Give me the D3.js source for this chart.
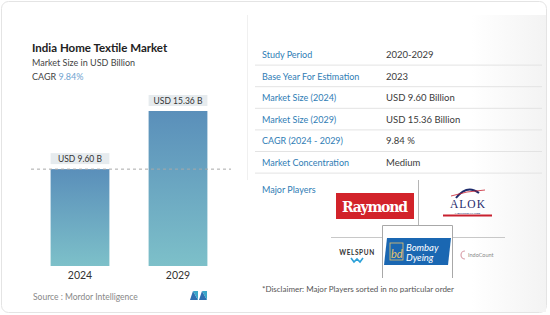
<!DOCTYPE html>
<html>
<head>
<meta charset="utf-8">
<script src="https://cdn.jsdelivr.net/npm/d3@7"></script>
<style>
  body { margin: 0; background: #fff; }
  svg { display: block; font-family: Lato, "Open Sans", sans-serif; }
</style>
</head>
<body>
<div id="chart"></div>
<script>
// chart data
var years = ["2024", "2029"];
var marketSize = [9.60, 15.36];
var sizeLabels = ["USD 9.60 B", "USD 15.36 B"];
var cagrText = "9.84%";

// table data
var rowLabels = ["Study Period", "Base Year For Estimation", "Market Size (2024)", "Market Size (2029)", "CAGR (2024 - 2029)", "Market Concentration"];
var rowValues = ["2020-2029", "2023", "USD 9.60 Billion", "USD 15.36 Billion", "9.84 %", "Medium"];

var svgWidth = 550;
var svgHeight = 315;
var svg = d3.select("#chart").append("svg")
    .attr("width", svgWidth)
    .attr("height", svgHeight);

var defs = svg.append("defs");
var grad = defs.append("linearGradient").attr("id", "barGrad")
    .attr("x1", 0).attr("y1", 0).attr("x2", 0).attr("y2", 1);
grad.append("stop").attr("offset", "0%").attr("stop-color", "#5a8fba");
grad.append("stop").attr("offset", "100%").attr("stop-color", "#7dc0c9");

var panelGrad = defs.append("linearGradient").attr("id", "panelGrad")
    .attr("x1", 0).attr("y1", 0).attr("x2", 1).attr("y2", 0);
panelGrad.append("stop").attr("offset", "0%").attr("stop-color", "#ffffff");
panelGrad.append("stop").attr("offset", "75%").attr("stop-color", "#ffffff");
panelGrad.append("stop").attr("offset", "100%").attr("stop-color", "#f3f3f3");

// outer card
svg.append("rect")
    .attr("x", 1.5).attr("y", 1.5).attr("width", 545).attr("height", 311)
    .attr("rx", 7).attr("fill", "#fff").attr("stroke", "#e4e4e4");

// right panel
svg.append("rect")
    .attr("x", 247).attr("y", 15).attr("width", 299).attr("height", 297)
    .attr("fill", "url(#panelGrad)");
svg.append("line")
    .attr("x1", 247.5).attr("x2", 247.5).attr("y1", 15).attr("y2", 180)
    .attr("stroke", "#f0f0f0");

// ---- left: title block ----
svg.append("text").attr("x", 32).attr("y", 52)
    .attr("font-size", "11.5px").attr("font-weight", "bold").attr("fill", "#222")
    .text("India Home Textile Market");
svg.append("text").attr("x", 32).attr("y", 66)
    .attr("font-size", "9px").attr("fill", "#444")
    .text("Market Size in USD Billion");
var cagr = svg.append("text").attr("x", 32).attr("y", 80)
    .attr("font-size", "9px").attr("fill", "#444");
cagr.append("tspan").text("CAGR ");
cagr.append("tspan").attr("fill", "#6fa3cf").text(cagrText);

// ---- left: bars ----
var xScale = d3.scaleBand().domain(years).range([31, 227])
    .paddingInner(0.4).paddingOuter(0.2);
var yScale = d3.scaleLinear().domain([0, 15.36]).range([266, 111]);

var chartData = years.map(function(y, i) {
    return {year: y, value: marketSize[i], label: sizeLabels[i]};
});

svg.append("g").selectAll("rect")
    .data(chartData)
    .enter()
    .append("rect")
    .attr("x", d => xScale(d.year))
    .attr("y", d => yScale(d.value))
    .attr("width", xScale.bandwidth())
    .attr("height", d => yScale(0) - yScale(d.value))
    .attr("fill", "url(#barGrad)");

// dashed reference at first value
svg.append("line")
    .attr("x1", 31).attr("x2", 231)
    .attr("y1", yScale(marketSize[0])).attr("y2", yScale(marketSize[0]))
    .attr("stroke", "#a8a8a8").attr("stroke-dasharray", "3,3");

var labels = svg.append("g").selectAll("g")
    .data(chartData)
    .enter()
    .append("g");
labels.append("rect")
    .attr("x", d => xScale(d.year))
    .attr("y", d => yScale(d.value) - 16)
    .attr("width", xScale.bandwidth())
    .attr("height", 11)
    .attr("fill", "#e6ebee");
labels.append("text")
    .attr("x", d => xScale(d.year) + xScale.bandwidth() / 2)
    .attr("y", d => yScale(d.value) - 7.5)
    .attr("text-anchor", "middle")
    .attr("font-size", "8.5px").attr("fill", "#333")
    .text(d => d.label);

var bottomAxis = d3.axisBottom(xScale).tickSize(0).tickPadding(6);
var axisG = svg.append("g").attr("transform", "translate(0,266)").call(bottomAxis);
axisG.select(".domain").remove();
axisG.selectAll("text").attr("font-size", "10.5px").attr("fill", "#333")
    .attr("font-family", "Lato, sans-serif");

// source
svg.append("text").attr("x", 33).attr("y", 300)
    .attr("font-size", "8.5px").attr("fill", "#888")
    .text("Source :  Mordor Intelligence");
var logo = svg.append("g").attr("transform", "translate(190,291)");
logo.append("path").attr("d", "M0,9 L3,0 L8,9 Z").attr("fill", "#2f6fb0");
logo.append("path").attr("d", "M3,0 L8,0 L8,9 Z").attr("fill", "#3aa7c9");
logo.append("path").attr("d", "M9,9 L12,0 L17,9 Z").attr("fill", "#2f6fb0");
logo.append("path").attr("d", "M12,0 L17,0 L17,9 Z").attr("fill", "#3aa7c9");

// ---- right: table ----
var rowH = 21.6;
var rows = svg.append("g").selectAll("g")
    .data(rowLabels)
    .enter()
    .append("g")
    .attr("transform", (d, i) => "translate(0," + (43.5 + i * rowH) + ")");
rows.append("text")
    .attr("x", 262).attr("y", 14.5)
    .attr("font-size", "9px").attr("fill", "#2f7db5")
    .text(d => d);
rows.append("text")
    .attr("x", 386).attr("y", 14.5)
    .attr("font-size", "9.5px").attr("fill", "#3a3a3a")
    .text((d, i) => rowValues[i]);
rows.append("line")
    .attr("x1", 255).attr("x2", 542)
    .attr("y1", rowH).attr("y2", rowH)
    .attr("stroke", "#e3e3e3");

// ---- right: major players ----
svg.append("text").attr("x", 262).attr("y", 193)
    .attr("font-size", "9px").attr("fill", "#2f7db5")
    .text("Major Players");

svg.append("line").attr("x1", 418.5).attr("x2", 418.5).attr("y1", 180).attr("y2", 237)
    .attr("stroke", "#b5b5b5");
svg.append("line").attr("x1", 331).attr("x2", 505).attr("y1", 237.5).attr("y2", 237.5)
    .attr("stroke", "#c8c8c8");
svg.append("rect").attr("x", 382).attr("y", 225).attr("width", 71).attr("height", 54)
    .attr("fill", "#fff");
svg.append("path").attr("d", "M382.5,278 V225.5 H452.5 V278")
    .attr("fill", "none").attr("stroke", "#a8a8a8");

// Raymond
svg.append("rect").attr("x", 336).attr("y", 193).attr("width", 78).attr("height", 26)
    .attr("fill", "#d2232a");
svg.append("text").attr("x", 375).attr("y", 211.5).attr("text-anchor", "middle")
    .attr("font-family", "DejaVu Serif, serif").attr("font-weight", "bold")
    .attr("font-size", "14px").attr("fill", "#fff").attr("textLength", 66)
    .text("Raymond");

// ALOK
svg.append("path").attr("d", "M456,198 Q467,184 479,193")
    .attr("fill", "none").attr("stroke", "#1d2a6b").attr("stroke-width", 2);
svg.append("path").attr("d", "M451,196 Q466,191 485,190")
    .attr("fill", "none").attr("stroke", "#c8202f").attr("stroke-width", 0.8);
svg.append("text").attr("x", 467.5).attr("y", 207.5).attr("text-anchor", "middle")
    .attr("font-family", "Liberation Serif, serif").attr("font-size", "11.5px")
    .attr("fill", "#1d2a6b").attr("textLength", 35).text("ALOK");
svg.append("text").attr("x", 467.5).attr("y", 213.6).attr("text-anchor", "middle")
    .attr("font-size", "2.6px").attr("fill", "#1d2a6b").text("INDUSTRIES LIMITED");
svg.append("rect").attr("x", 443).attr("y", 214.5).attr("width", 49).attr("height", 2)
    .attr("fill", "#c8202f");

// Welspun
svg.append("text").attr("x", 357).attr("y", 255).attr("text-anchor", "middle")
    .attr("font-size", "6.5px").attr("font-weight", "bold").attr("fill", "#333")
    .attr("letter-spacing", "0.6px").text("WELSPUN");
svg.append("path").attr("d", "M351,258 L354,262 L357,259 L360,262 L363,258")
    .attr("fill", "none").attr("stroke", "#2aa0d8").attr("stroke-width", 1.6);

// Bombay Dyeing
svg.append("path").attr("d", "M387,238 H451 L448,265 H384 Z").attr("fill", "#1a67b2");
svg.append("rect").attr("x", 390).attr("y", 243).attr("width", 13).attr("height", 17)
    .attr("fill", "none").attr("stroke", "#e8c46a").attr("stroke-width", 0.8);
svg.append("text").attr("x", 391).attr("y", 258).attr("font-size", "11px")
    .attr("font-style", "italic").attr("fill", "#e8c46a").text("bd");
svg.append("text").attr("x", 406).attr("y", 251).attr("font-size", "9.5px")
    .attr("font-style", "italic").attr("fill", "#fff").text("Bombay");
svg.append("text").attr("x", 406).attr("y", 261).attr("font-size", "9.5px")
    .attr("font-style", "italic").attr("fill", "#fff").text("Dyeing");

// Indo Count
svg.append("path").attr("d", "M465,251 A4,4 0 1,0 465,259")
    .attr("fill", "none").attr("stroke", "#d9a0aa").attr("stroke-width", 1.2);
svg.append("text").attr("x", 468).attr("y", 257).attr("font-size", "5.5px")
    .attr("fill", "#888").text("IndoCount");

// disclaimer
svg.append("text").attr("x", 262).attr("y", 292)
    .attr("font-size", "8px").attr("fill", "#555")
    .text("*Disclaimer: Major Players sorted in no particular order");
</script>
</body>
</html>
